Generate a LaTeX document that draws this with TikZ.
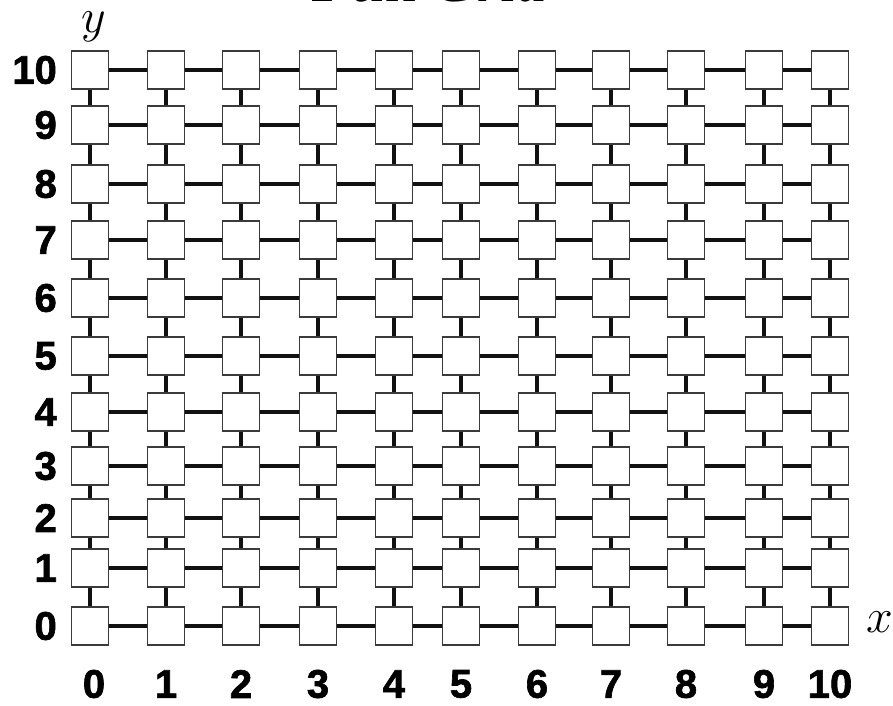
\documentclass[tikz,border=0pt]{standalone}
\usepackage{fix-cm}
\usepackage{fontspec}
\setmainfont{Liberation Serif}
\setsansfont[BoldFeatures={FakeBold=1.6}]{Liberation Sans}
\usepackage{tikz}
\definecolor{GridLine}{HTML}{111111}
\definecolor{BoxEdge}{HTML}{3A3A3A}

\begin{document}
\begin{tikzpicture}[x=1pt,y=-1pt,
  cellbox/.style={draw=BoxEdge,line width=1.4pt,fill=white,minimum width=37pt,minimum height=38pt,inner sep=0pt},
  link/.style={GridLine,line width=3.2pt},
  ticklab/.style={font=\sffamily\bfseries\fontsize{40}{40}\selectfont,inner sep=0pt},
  axislab/.style={font=\fontsize{48}{48}\selectfont,inner sep=0pt}]
\path[use as bounding box] (0,0) rectangle (893,705);
% title, cut off at the top edge
\node[anchor=base,font=\bfseries\itshape\fontsize{60}{60}\selectfont,inner sep=0pt] (title) at (430,1.2) {Full Grid};
% the nodes of the grid
\foreach \i/\x in {0/90,1/166,2/241,3/318,4/394,5/461,6/537,7/611,8/686,9/764,10/830}{
  \foreach \j/\y in {0/626,1/568,2/518,3/466,4/412,5/356,6/298,7/240,8/184,9/125,10/70}{
    \node[cellbox] (c-\i-\j) at (\x,\y) {};
  }
}
% horizontal links
\foreach \i [evaluate=\i as \k using int(\i+1)] in {0,...,9}{
  \foreach \j in {0,...,10}{
    \draw[link] (c-\i-\j) -- (c-\k-\j);
  }
}
% vertical links
\foreach \j [evaluate=\j as \k using int(\j+1)] in {0,...,9}{
  \foreach \i in {0,...,10}{
    \draw[link] (c-\i-\j) -- (c-\i-\k);
  }
}
% axis numbers
\foreach \i/\x in {0/94,1/166,2/241,3/318,4/394,5/461,6/537,7/611,8/686,9/764,10/830}{
  \node[ticklab] (xl-\i) at (\x,684) {\i};
}
\foreach \j/\y in {0/626,1/568,2/518,3/466,4/412,5/356,6/298,7/240,8/184,9/125,10/70}{
  \node[ticklab,anchor=east] (yl-\j) at (57,\y) {\j};
}
\node[axislab] (xaxis) at (880,622) {$x$};
\node[axislab] (yaxis) at (94,27) {$y$};
\end{tikzpicture}
\end{document}
